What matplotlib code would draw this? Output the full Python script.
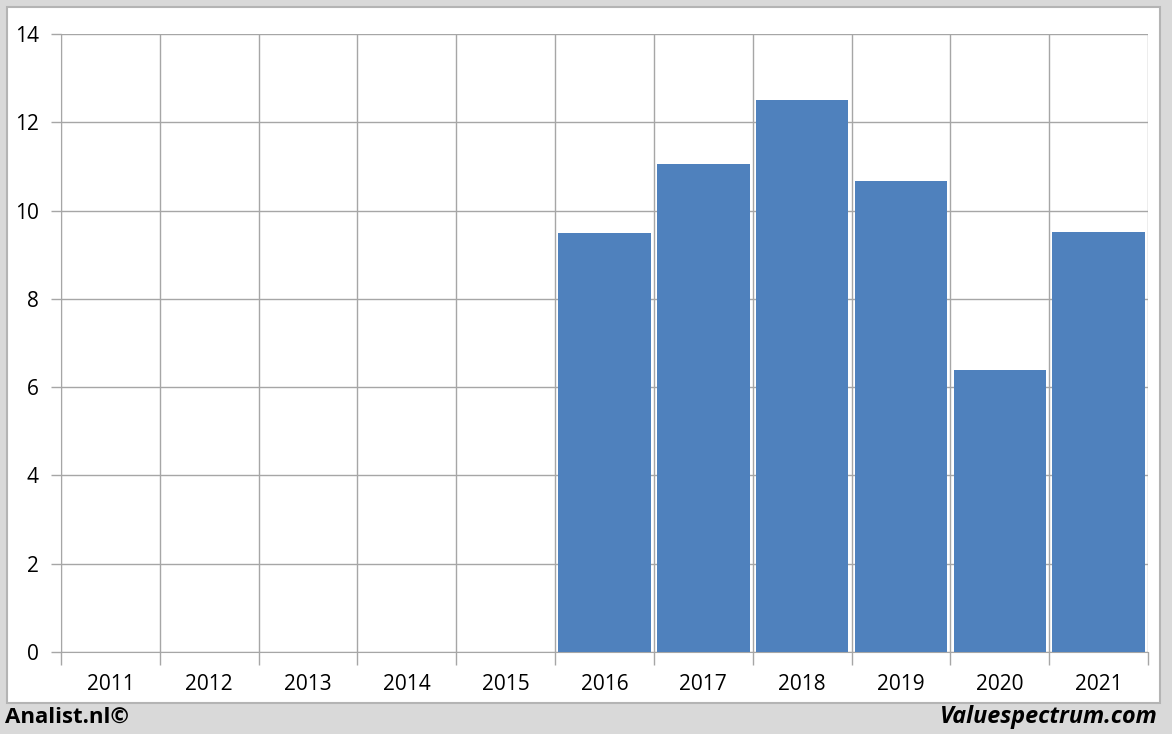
import numpy as np
import matplotlib.pyplot as plt
from matplotlib.patches import Rectangle

# data
years = ['2011', '2012', '2013', '2014', '2015', '2016', '2017', '2018', '2019', '2020', '2021']
values = [0, 0, 0, 0, 0, 9.49, 11.05, 12.5, 10.67, 6.38, 9.51]

W, H = 1172, 734
fig = plt.figure(figsize=(W / 100, H / 100), dpi=100)
fig.patch.set_facecolor('#d9d9d9')

# white panel with grey border
fig.patches.append(Rectangle((7 / W, 1 - 703 / H), 1153 / W, 696 / H, transform=fig.transFigure,
                             facecolor='white', edgecolor='#b4b4b4', linewidth=1.5, zorder=-10))

ax = fig.add_axes([61 / W, 1 - 652 / H, 1087 / W, 618 / H])
ax.set_facecolor('white')

x = np.arange(len(years))
ax.bar(x, values, width=0.935, color='#4f81bd', zorder=3)

ax.set_xlim(-0.5, len(years) - 0.5)
ax.set_ylim(0, 14)
ax.set_yticks(np.arange(0, 15, 2))
ax.set_xticks(x)
ax.set_xticklabels(years)
ax.set_xticks(np.arange(-0.5, len(years), 1), minor=True)

grid_c = '#a6a6a6'
ax.grid(axis='y', which='major', color=grid_c, linewidth=1, zorder=1)
ax.grid(axis='x', which='minor', color=grid_c, linewidth=1, zorder=1)
ax.tick_params(axis='x', which='major', length=0, pad=16, labelsize=15)
ax.tick_params(axis='x', which='minor', length=9, color=grid_c, width=1)
ax.tick_params(axis='y', length=7, color=grid_c, width=1, labelsize=15, pad=9)

for s in ['top', 'right']:
    ax.spines[s].set_visible(False)
ax.spines['left'].set_color(grid_c)
ax.spines['bottom'].set_color(grid_c)

for lbl in ax.get_xticklabels() + ax.get_yticklabels():
    lbl.set_fontfamily('Open Sans')

fig.text(5 / W, 1 - 717 / H, 'Analist.nl©', fontsize=16, fontweight='bold',
         family='Open Sans', ha='left', va='center')
fig.text(1158 / W, 1 - 717 / H, 'Valuespectrum.com', fontsize=16.8, fontweight='bold',
         style='italic', family='Open Sans', ha='right', va='center')

fig.savefig('out.png', dpi=100, facecolor=fig.get_facecolor())
